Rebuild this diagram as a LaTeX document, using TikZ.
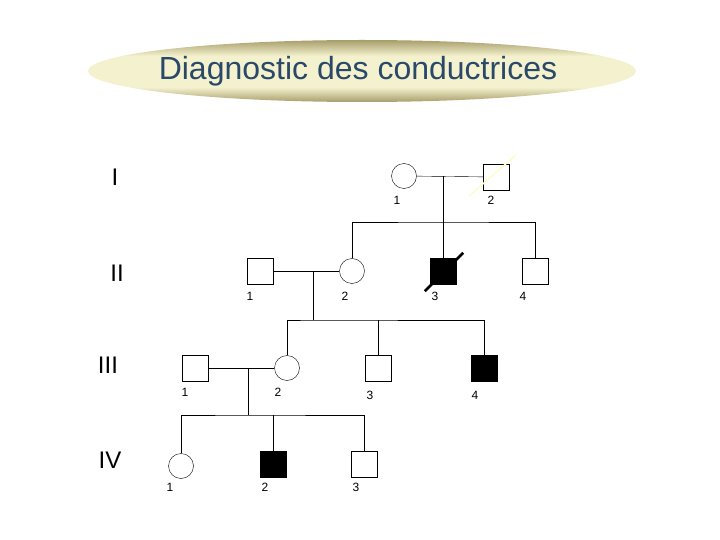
\documentclass[tikz,border=0pt]{standalone}
\usepackage{fontspec}
\setmainfont{Liberation Sans}
\usetikzlibrary{shapes.geometric, calc}

\definecolor{titleblue}{RGB}{42,72,104}
\definecolor{olive}{RGB}{168,158,108}
\definecolor{paleyellow}{RGB}{244,242,206}

\pgfdeclareverticalshading{titleshade}{100bp}{color(0bp)=(olive); color(25bp)=(olive); color(37bp)=(paleyellow); color(62bp)=(paleyellow); color(75bp)=(olive); color(100bp)=(olive)}

\tikzset{
	male/.style={draw, rectangle, minimum size=26pt, inner sep=0pt},
	female/.style={draw, circle, minimum size=25pt, inner sep=0pt},
	sick/.style={fill=black},
	num/.style={font=\fontsize{12}{14}\selectfont, inner sep=0pt},
	gen/.style={font=\fontsize{24}{26}\selectfont, inner sep=0pt}
}

\begin{document}
\begin{tikzpicture}[x=1pt, y=-1pt]
			\useasboundingbox (0, 0) rectangle (720, 540);

			% title
			\shade[shading=titleshade] (362, 71) ellipse [x radius=274, y radius=31];
			\draw (358, 71) node[text=titleblue, font=\fontsize{32}{34}\selectfont] (title) {Diagnostic des conductrices};

			% generations
			\draw (115, 177) 	node[gen] 	(gI) 	{I};
			\draw (117, 273) 	node[gen] 	(gII) 	{II};
			\draw (108, 365) 	node[gen] 	(gIII) 	{III};
			\draw (110, 460) 	node[gen] 	(gIV) 	{IV};

			% generation I
			\draw (404, 176) 	node[female] 		(I1) 	{};
			\draw (496, 177) 	node[male] 			(I2) 	{};
			\draw (397, 200) 	node[num] 			(nI1) 	{1};
			\draw (491, 200) 	node[num] 			(nI2) 	{2};

			% generation II
			\draw (260, 271) 	node[male] 			(II1) 	{};
			\draw (352, 271) 	node[female] 		(II2) 	{};
			\draw (443, 271) 	node[male, sick] 	(II3) 	{};
			\draw (535, 271) 	node[male] 			(II4) 	{};
			\draw (250, 296) 	node[num] 			(nII1) 	{1};
			\draw (345, 296) 	node[num] 			(nII2) 	{2};
			\draw (435, 296) 	node[num] 			(nII3) 	{3};
			\draw (523, 296) 	node[num] 			(nII4) 	{4};

			% generation III
			\draw (195, 368) 	node[male] 			(III1) 	{};
			\draw (287, 368) 	node[female] 		(III2) 	{};
			\draw (378, 368) 	node[male] 			(III3) 	{};
			\draw (484, 368) 	node[male, sick] 	(III4) 	{};
			\draw (185, 392) 	node[num] 			(nIII1) {1};
			\draw (278, 392) 	node[num] 			(nIII2) {2};
			\draw (370, 395) 	node[num] 			(nIII3) {3};
			\draw (475, 395) 	node[num] 			(nIII4) {4};

			% generation IV
			\draw (181, 466) 	node[female] 		(IV1) 	{};
			\draw (273, 464) 	node[male, sick] 	(IV2) 	{};
			\draw (364, 464) 	node[male] 			(IV3) 	{};
			\draw (170, 487) 	node[num] 			(nIV1) 	{1};
			\draw (265, 487) 	node[num] 			(nIV2) 	{2};
			\draw (356, 487) 	node[num] 			(nIV3) 	{3};

			\coordinate (m1) at (443, 176);
			\coordinate (s1) at (443, 222);
			\coordinate (m2) at (313, 271);
			\coordinate (s2) at (313, 320);
			\coordinate (s2c) at (378, 320);
			\coordinate (m3) at (248, 368);
			\coordinate (s3) at (248, 415);
			\coordinate (s3c) at (273, 415);

			\draw (I1) -- (I2);
			\draw (m1) -- (s1);
			\draw (II2) |- (s1) -| (II4);
			\draw (s1) -- (II3);

			\draw (II1) -- (II2);
			\draw (m2) -- (s2);
			\draw (III2) |- (s2) -| (III4);
			\draw (s2c) -- (III3);

			\draw (III1) -- (III2);
			\draw (m3) -- (s3);
			\draw (IV1) |- (s3) -| (IV3);
			\draw (s3c) -- (IV2);

			% deceased
			\draw[line width=2.5pt] ($(II3.south west) + (-5, 7)$) -- ($(II3.north east) + (7, -5)$);
			\draw[yellow!20, line width=1.5pt] ($(I2.south west) + (-14, 6)$) -- ($(I2.north east) + (7, -9)$);
		\end{tikzpicture}
\end{document}
